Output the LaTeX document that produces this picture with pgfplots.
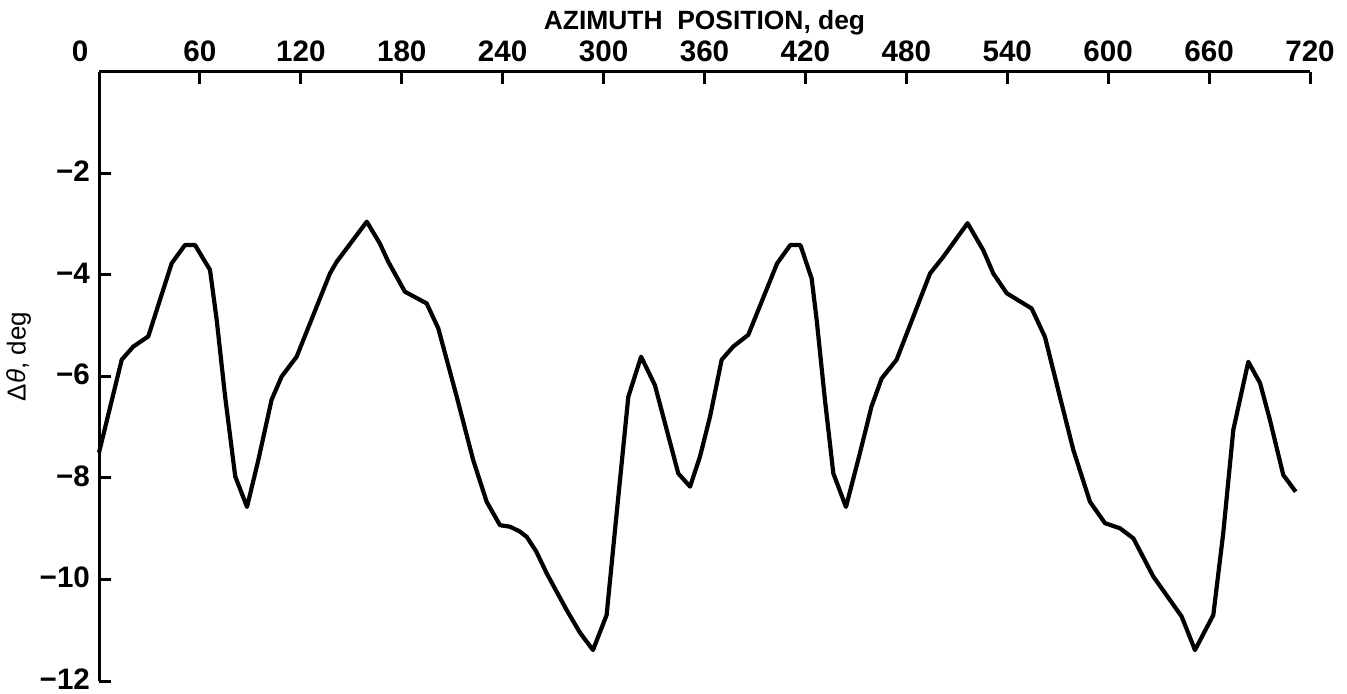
\documentclass[border=0pt]{standalone}
\usepackage{fontspec}
\setmainfont{Liberation Sans}
\usepackage{pgfplots}
\pgfplotsset{compat=1.18}
\pgfplotstableread{
x y
0 -7.5
13.5 -5.67
20.4 -5.41
29.3 -5.21
43.2 -3.77
51.1 -3.41
57.1 -3.41
66 -3.90
70 -4.89
75 -6.40
81 -7.97
88 -8.57
94.7 -7.65
102.6 -6.46
108.6 -6.0
117.5 -5.61
137.3 -3.97
141.3 -3.74
159.2 -2.95
167 -3.38
172 -3.74
181.9 -4.33
194.8 -4.56
201.7 -5.05
212.7 -6.40
222.5 -7.65
230.5 -8.47
238.4 -8.93
244.4 -8.96
250 -9.05
254.3 -9.16
260 -9.45
266.2 -9.88
278 -10.6
286 -11.05
293.7 -11.39
301.8 -10.7
306.8 -9.02
314.7 -6.40
322.3 -5.61
330.5 -6.17
344.4 -7.91
351.4 -8.17
357.3 -7.58
363.3 -6.79
370.2 -5.67
377.1 -5.41
386 -5.18
403.2 -3.77
411 -3.41
417 -3.41
423.7 -4.07
426.7 -4.89
431.6 -6.46
436.6 -7.91
444.1 -8.57
452.4 -7.51
459.3 -6.59
465.3 -6.04
474.2 -5.67
494.1 -3.97
502 -3.64
516.4 -2.98
525.7 -3.51
531.7 -3.97
539.7 -4.36
554.5 -4.66
562.4 -5.22
571.3 -6.4
579.3 -7.45
589.2 -8.47
598.1 -8.89
607 -8.99
615 -9.19
626.8 -9.94
643.7 -10.73
651.6 -11.39
662.5 -10.7
668.4 -9.09
674.4 -7.05
683.3 -5.71
690.3 -6.13
696.2 -6.86
704.1 -7.94
711.5 -8.27
}\datatable
\begin{document}
\begin{tikzpicture}
\begin{axis}[
 width=605.5pt, height=304.5pt, scale only axis,
 xmin=0, xmax=720, ymin=-12, ymax=0,
 axis x line*=top, axis y line*=left,
 axis line style={line width=1.5pt, black},
 xtick={60,120,...,720},
 ytick={-2,-4,-6,-8,-10,-12},
 yticklabels={−2,−4,−6,−8,−10,−12},
 extra x ticks={0},
 extra x tick style={tick style={draw=none}, xticklabel style={xshift=-9.5pt}},
 tick align=inside,
 major tick length=6pt,
 tick style={line width=1.5pt, black},
 tick label style={font=\fontsize{14.8}{16}\selectfont\bfseries},
 xticklabel style={yshift=1.5pt},
 yticklabel style={yshift=1pt, xshift=-1pt},
 /pgf/number format/assume math mode=true,
 xlabel={AZIMUTH\ \ POSITION, deg},
 xlabel style={font=\fontsize{13.2}{14}\selectfont\bfseries, yshift=-4pt},
 ylabel={Δ\textit{θ}, deg},
 ylabel style={font=\fontsize{13}{14}\selectfont, xshift=10pt, yshift=-2.5pt},
 clip=false,
]
\addplot[line width=2.1pt, black, line join=round] table[x=x,y=y] {\datatable};
\coordinate (sw) at (rel axis cs:0,0);
\coordinate (ne) at (rel axis cs:1,1);
\end{axis}
\pgfresetboundingbox
\path[use as bounding box] ([shift={(-49.5pt,-6pt)}]sw) rectangle ([shift={(18.5pt,36pt)}]ne);
\end{tikzpicture}
\end{document}
